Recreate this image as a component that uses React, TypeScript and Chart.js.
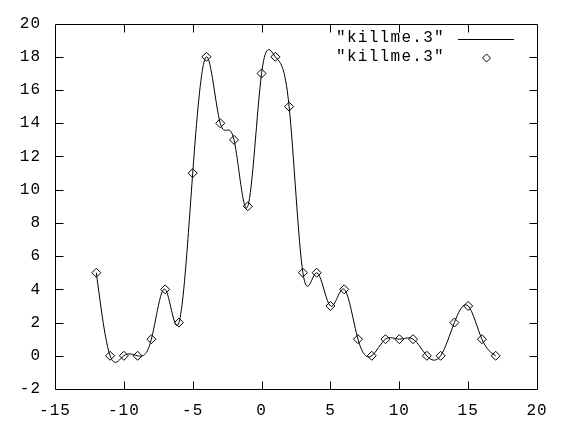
import React, { useEffect, useRef } from 'react';
import { Chart, registerables } from 'chart.js';

Chart.register(...registerables);

const xValues = [-12, -11, -10, -9, -8, -7, -6, -5, -4, -3, -2, -1, 0, 1, 2, 3, 4, 5, 6, 7, 8, 9, 10, 11, 12, 13, 14, 15, 16, 17];
const yValues = [5, 0, 0, 0, 1, 4, 2, 11, 18, 14, 13, 9, 17, 18, 15, 5, 5, 3, 4, 1, 0, 1, 1, 1, 0, 0, 2, 3, 1, 0];
const seriesLabel = '"killme.3"';
const xTicks = [-15, -10, -5, 0, 5, 10, 15, 20];
const yTicks = [-2, 0, 2, 4, 6, 8, 10, 12, 14, 16, 18, 20];

const FONT = "'Liberation Mono', 'DejaVu Sans Mono', monospace";

// Natural cubic spline slopes (gnuplot "smooth csplines" look), in data space.
function splineSlopes(xs: number[], ys: number[]): number[] {
  const n = xs.length;
  const h: number[] = [];
  for (let i = 0; i < n - 1; i++) h.push(xs[i + 1] - xs[i]);
  const M = new Array(n).fill(0);
  if (n > 2) {
    const a: number[] = [], b: number[] = [], c: number[] = [], d: number[] = [];
    for (let i = 1; i < n - 1; i++) {
      a.push(h[i - 1]);
      b.push(2 * (h[i - 1] + h[i]));
      c.push(h[i]);
      d.push(6 * ((ys[i + 1] - ys[i]) / h[i] - (ys[i] - ys[i - 1]) / h[i - 1]));
    }
    const m = b.length;
    for (let i = 1; i < m; i++) {
      const w = a[i] / b[i - 1];
      b[i] -= w * c[i - 1];
      d[i] -= w * d[i - 1];
    }
    const sol = new Array(m).fill(0);
    sol[m - 1] = d[m - 1] / b[m - 1];
    for (let i = m - 2; i >= 0; i--) sol[i] = (d[i] - c[i] * sol[i + 1]) / b[i];
    for (let i = 0; i < m; i++) M[i + 1] = sol[i];
  }
  const s: number[] = [];
  for (let i = 0; i < n - 1; i++) {
    s.push((ys[i + 1] - ys[i]) / h[i] - (h[i] * (2 * M[i] + M[i + 1])) / 6);
  }
  s.push((ys[n - 1] - ys[n - 2]) / h[n - 2] + (h[n - 2] * (M[n - 2] + 2 * M[n - 1])) / 6);
  return s;
}

const splinePlugin = {
  id: 'csplines',
  beforeDatasetDraw(chart: any, args: any) {
    if (args.index !== 0) return;
    const meta = chart.getDatasetMeta(0);
    const line = meta.dataset;
    if (line && line.updateControlPoints) line.updateControlPoints(chart.chartArea, 'x');
    const xs = chart.scales.x;
    const ys = chart.scales.y;
    const slopes = splineSlopes(xValues, yValues);
    const pts = meta.data;
    for (let i = 0; i < pts.length; i++) {
      const hPrev = i > 0 ? xValues[i] - xValues[i - 1] : 1;
      const hNext = i < pts.length - 1 ? xValues[i + 1] - xValues[i] : 1;
      const p = pts[i];
      p.cp1x = xs.getPixelForValue(xValues[i] - hPrev / 3);
      p.cp1y = ys.getPixelForValue(yValues[i] - (hPrev / 3) * slopes[i]);
      p.cp2x = xs.getPixelForValue(xValues[i] + hNext / 3);
      p.cp2y = ys.getPixelForValue(yValues[i] + (hNext / 3) * slopes[i]);
    }
  },
};

const framePlugin = {
  id: 'gnuplotFrame',
  beforeDraw(chart: any) {
    const ctx = chart.ctx;
    ctx.save();
    ctx.fillStyle = '#ffffff';
    ctx.fillRect(0, 0, chart.width, chart.height);
    ctx.restore();
    try { ctx.letterSpacing = '1px'; } catch (e) {}
  },
  afterDraw(chart: any) {
    const ctx = chart.ctx;
    const a = chart.chartArea;
    const xs = chart.scales.x;
    const ys = chart.scales.y;
    const L = Math.round(a.left) + 0.5;
    const R = Math.round(a.right) + 0.5;
    const T = Math.round(a.top) + 0.5;
    const B = Math.round(a.bottom) + 0.5;
    ctx.save();
    ctx.letterSpacing = '0px';
    ctx.strokeStyle = '#000';
    ctx.lineWidth = 1;
    ctx.beginPath();
    ctx.rect(L, T, R - L, B - T);
    const tl = 8;
    xTicks.forEach((v) => {
      const px = Math.round(xs.getPixelForValue(v)) + 0.5;
      if (v === xTicks[0] || v === xTicks[xTicks.length - 1]) return;
      ctx.moveTo(px, B);
      ctx.lineTo(px, B - tl);
      ctx.moveTo(px, T);
      ctx.lineTo(px, T + tl);
    });
    yTicks.forEach((v) => {
      const py = Math.round(ys.getPixelForValue(v)) + 0.5;
      if (v === yTicks[0] || v === yTicks[yTicks.length - 1]) return;
      ctx.moveTo(L, py);
      ctx.lineTo(L + tl, py);
      ctx.moveTo(R, py);
      ctx.lineTo(R - tl, py);
    });
    ctx.stroke();

    // legend
    ctx.letterSpacing = '1.3px';
    ctx.font = `16px ${FONT}`;
    ctx.fillStyle = '#000';
    ctx.textAlign = 'right';
    ctx.textBaseline = 'middle';
    const textRight = 445;
    const row1 = 39;
    const row2 = 58;
    const ds = chart.data.datasets;
    ctx.fillText(ds[0].label, textRight, row1 - 1);
    ctx.fillText(ds[1].label, textRight, row2 - 1);
    ctx.beginPath();
    ctx.moveTo(458, row1 + 0.5);
    ctx.lineTo(514, row1 + 0.5);
    ctx.stroke();
    const cx = 486.5;
    const r = 4;
    ctx.beginPath();
    ctx.moveTo(cx, row2 - r);
    ctx.lineTo(cx + r, row2);
    ctx.lineTo(cx, row2 + r);
    ctx.lineTo(cx - r, row2);
    ctx.closePath();
    ctx.stroke();
    ctx.restore();
  },
};

export default function App() {
  const ref = useRef<HTMLCanvasElement | null>(null);

  useEffect(() => {
    if (!ref.current) return;
    const points = xValues.map((x, i) => ({ x, y: yValues[i] }));
    const chart = new Chart(ref.current, {
      type: 'line',
      data: {
        datasets: [
          {
            label: seriesLabel,
            data: points,
            borderColor: '#000',
            borderWidth: 1,
            pointRadius: 0,
            tension: 0.4,
            fill: false,
          },
          {
            label: seriesLabel,
            data: points,
            showLine: false,
            borderColor: '#000',
            backgroundColor: 'rgba(0,0,0,0)',
            pointStyle: 'rectRot',
            pointRadius: 4.5,
            pointBorderWidth: 1,
            pointBorderColor: '#000',
            pointBackgroundColor: 'rgba(0,0,0,0)',
          },
        ],
      },
      options: {
        animation: false,
        responsive: false,
        maintainAspectRatio: false,
        devicePixelRatio: 1,
        layout: { padding: { top: 22, right: 33, left: 0, bottom: 0 } },
        plugins: {
          legend: { display: false },
          tooltip: { enabled: false },
          title: { display: false },
        },
        scales: {
          x: {
            type: 'linear',
            min: xTicks[0],
            max: xTicks[xTicks.length - 1],
            afterBuildTicks: (scale: any) => {
              scale.ticks = xTicks.map((v) => ({ value: v }));
            },
            afterFit: (scale: any) => {
              scale.height = 38;
            },
            grid: { display: false, drawTicks: false },
            border: { display: false },
            ticks: {
              color: '#000',
              padding: 12,
              maxRotation: 0,
              autoSkip: false,
              font: { family: FONT, size: 16 },
              callback: (v: any) => String(v),
            },
          },
          y: {
            type: 'linear',
            min: yTicks[0],
            max: yTicks[yTicks.length - 1],
            afterBuildTicks: (scale: any) => {
              scale.ticks = yTicks.map((v) => ({ value: v }));
            },
            afterFit: (scale: any) => {
              scale.width = 55;
            },
            grid: { display: false, drawTicks: false },
            border: { display: false },
            ticks: {
              color: '#000',
              padding: 14,
              autoSkip: false,
              font: { family: FONT, size: 16 },
              callback: (v: any) => String(v),
            },
          },
        },
      },
      plugins: [splinePlugin, framePlugin],
    });
    return () => chart.destroy();
  }, []);

  return (
    <div style={{ position: 'absolute', left: 0, top: 0, width: 570, height: 427, background: '#fff' }}>
      <canvas ref={ref} width={570} height={427} style={{ width: 570, height: 427, display: 'block' }} />
    </div>
  );
}
